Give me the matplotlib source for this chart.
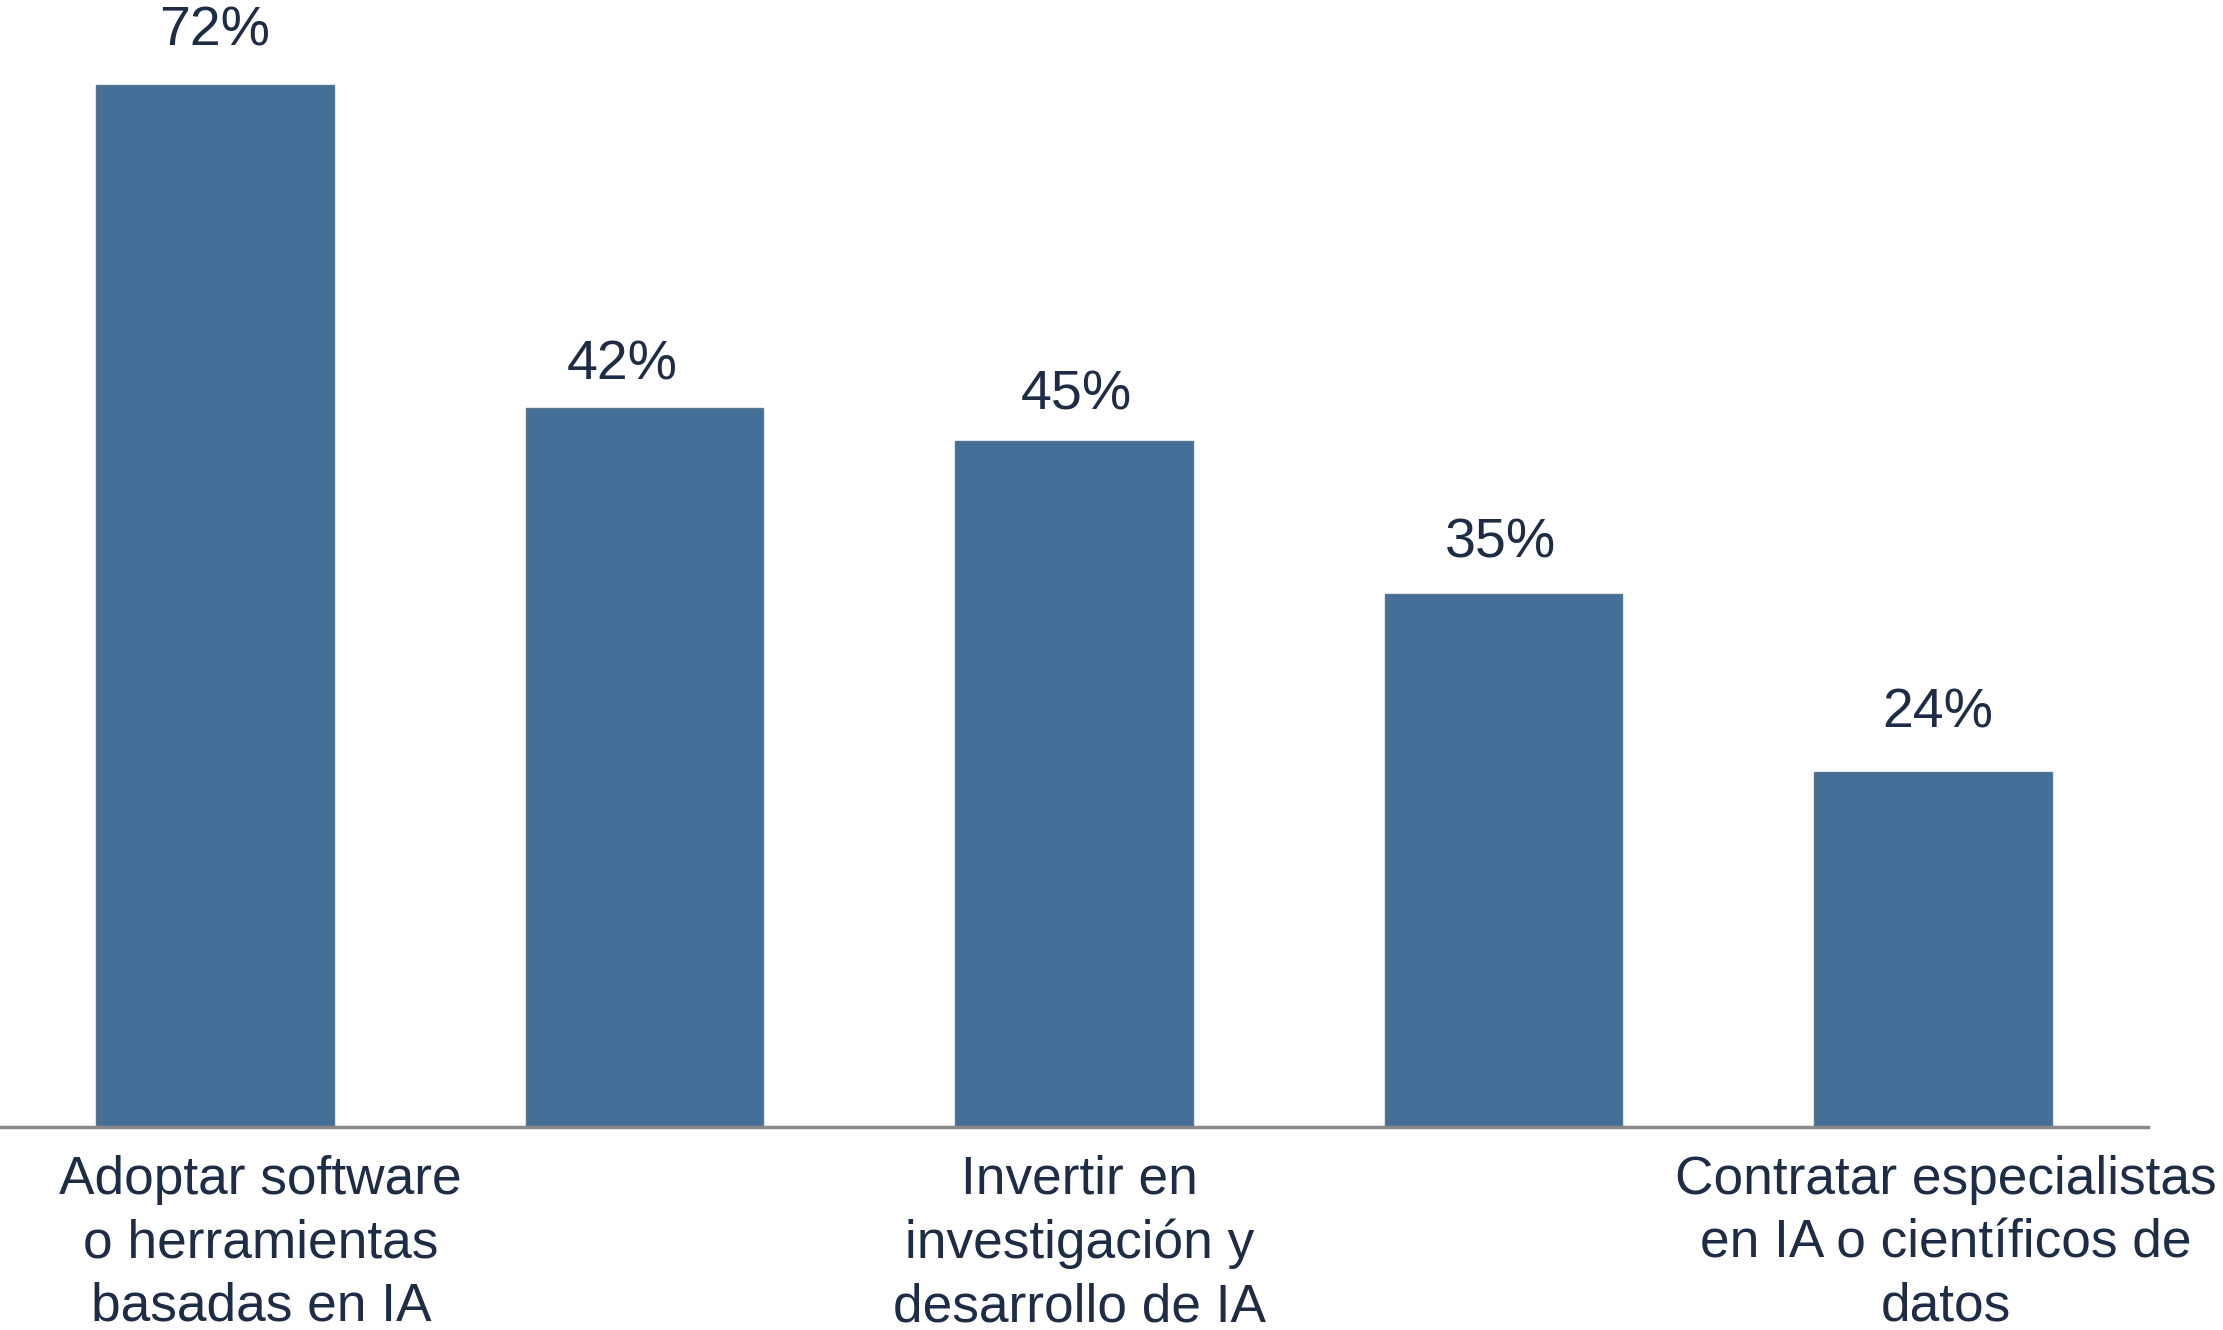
import matplotlib
matplotlib.use("Agg")
import matplotlib.pyplot as plt

# Data
categories = [
    "Adoptar software\no herramientas\nbasadas en IA",
    "",
    "Invertir en\ninvestigación y\ndesarrollo de IA",
    "",
    "Contratar especialistas\nen IA o científicos de\ndatos",
]
bar_heights = [72, 49.7, 47.4, 36.8, 24.5]
value_labels = ["72%", "42%", "45%", "35%", "24%"]

# Layout tweaks (label placement offsets, in points / data units)
label_dx_pt = [0, -16, 2, -2, 3]
label_dy_pt = [20, 12, 14, 18, 24]
cat_x_shift = [0.107, 0, 0.012, 0, 0.03]

bar_color = "#446f97"
text_color = "#1f2c46"

plt.rcParams['font.family'] = ['Liberation Sans', 'DejaVu Sans']

fig = plt.figure(figsize=(22.23, 13.30), dpi=100)
ax = fig.add_axes([0.0, 0.1526, 0.9663, 0.8474])

xs = list(range(len(bar_heights)))
ax.bar(xs, bar_heights, width=0.553, color=bar_color, edgecolor="#5a7690",
       linewidth=1.0, zorder=2)

for x, h, lab, dx, dy in zip(xs, bar_heights, value_labels, label_dx_pt, label_dy_pt):
    ax.annotate(lab, xy=(x, h), xytext=(dx, dy), textcoords="offset points",
                ha="center", va="bottom", fontsize=40, color=text_color,
                annotation_clip=False)

for x, cat, sx in zip(xs, categories, cat_x_shift):
    if cat:
        ax.annotate(cat, xy=(x + sx, 0), xytext=(0, -20), textcoords="offset points",
                    ha="center", va="top", fontsize=38.3, color=text_color,
                    linespacing=1.34, annotation_clip=False)

ax.set_xlim(-0.5, 4.5)
ax.set_ylim(0, 77.87)
for s in ["top", "right", "left"]:
    ax.spines[s].set_visible(False)
ax.spines["bottom"].set_color("#8a8a8a")
ax.spines["bottom"].set_linewidth(2.5)
ax.set_xticks([])
ax.set_yticks([])

fig.savefig("out.png", dpi=100, facecolor="white")
